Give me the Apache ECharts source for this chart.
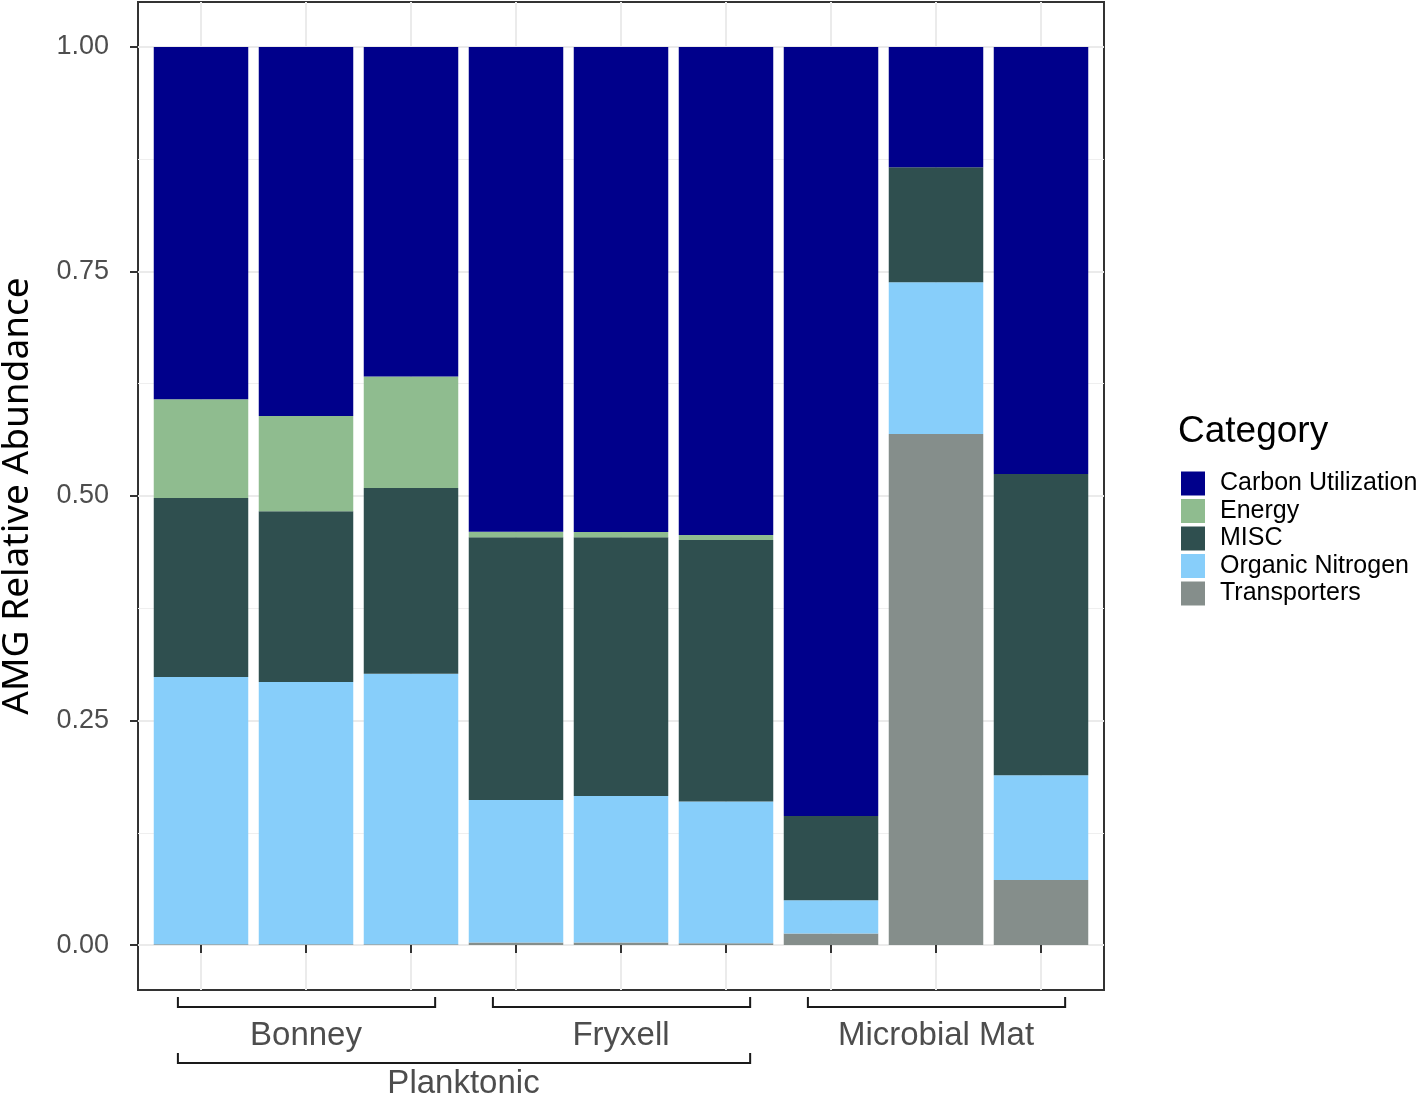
<!DOCTYPE html>
<html>
<head>
<meta charset="utf-8">
<script src="https://cdn.jsdelivr.net/npm/echarts@6/dist/echarts.min.js"></script>
<style>
	html, body { margin: 0; padding: 0; background: #fff; }
	#chart { width: 1421px; height: 1096px; }
</style>
</head>
<body>
<div id="chart"></div>
<script type="text/javascript">
	// bar positions (x labels are blank, groups are shown with brackets below)
	var positions = [1, 2, 3, 4, 5, 6, 7, 8, 9];
	var samples = ['B1', 'B2', 'B3', 'F1', 'F2', 'F3', 'M1', 'M2', 'M3'];
	var categories = ['Carbon Utilization', 'Energy', 'MISC', 'Organic Nitrogen', 'Transporters'];
	var colors = ['#00008B', '#8FBC8F', '#2F4F4F', '#87CEFA', '#858E8B'];

	var carbon       = [0.3922, 0.411, 0.367, 0.5397, 0.540, 0.5434, 0.8563, 0.134, 0.4755];
	var energy       = [0.110, 0.106, 0.124, 0.0063, 0.006, 0.0056, 0, 0, 0];
	var misc         = [0.1994, 0.190, 0.207, 0.2925, 0.288, 0.291, 0.0937, 0.128, 0.3355];
	var organicN     = [0.2974, 0.292, 0.301, 0.1585, 0.163, 0.158, 0.0372, 0.169, 0.1166];
	var transporters = [0.001, 0.001, 0.001, 0.003, 0.003, 0.002, 0.0128, 0.569, 0.0724];

	var yTicks = [0, 0.25, 0.5, 0.75, 1];
	var yMinor = [0.125, 0.375, 0.625, 0.875];

	// groups: name, first bar, last bar, level (0 = inner, 1 = outer)
	var groupNames = ['Bonney', 'Fryxell', 'Microbial Mat', 'Planktonic'];
	var groupFrom  = [1, 4, 7, 1];
	var groupTo    = [3, 6, 9, 6];
	var groupLevel = [0, 0, 0, 1];

	// panel: ggplot-style expansion of 0.6 units on the discrete axis
	var xMin = 0.4, xMax = 9.6;
	var panelLeft = 138, panelRight = 317, panelTop = 2, panelBottom = 106;
	var unit = (1421 - panelLeft - panelRight) / (xMax - xMin);
	var pad = (positions[0] - 0.5 - xMin) * unit;

	// stacking: first series sits at the bottom
	var stackOrder = [
		['Transporters', transporters, colors[4]],
		['Organic Nitrogen', organicN, colors[3]],
		['MISC', misc, colors[2]],
		['Energy', energy, colors[1]],
		['Carbon Utilization', carbon, colors[0]]
	];
	var series = stackOrder.map(function (s) {
		return {
			name: s[0],
			type: 'bar',
			stack: 'all',
			xAxisIndex: 1,
			yAxisIndex: 2,
			barWidth: '90%',
			itemStyle: { color: s[2] },
			data: s[1]
		};
	});

	var labelFont = 'Liberation Sans';
	var myChart = echarts.init(document.getElementById('chart'));
	var option = {
		animation: false,
		backgroundColor: '#ffffff',
		title: {
			text: 'Category',
			left: 1173,
			top: 408,
			textStyle: { fontFamily: labelFont, fontSize: 37, fontWeight: 'normal', color: '#000' }
		},
		legend: {
			orient: 'vertical',
			left: 1176,
			top: 466,
			icon: 'rect',
			itemWidth: 24,
			itemHeight: 24,
			itemGap: 2.5,
			data: categories,
			textStyle: { fontFamily: labelFont, fontSize: 25, lineHeight: 24, color: '#000', padding: [0, 0, 0, 10] }
		},
		grid: [
			{
				left: panelLeft, right: panelRight, top: panelTop, bottom: panelBottom,
				show: true, borderColor: '#333333', borderWidth: 2,
				outerBoundsMode: 'none'
			},
			{
				left: panelLeft + pad, right: panelRight + pad, top: panelTop, bottom: panelBottom,
				outerBoundsMode: 'none'
			}
		],
		xAxis: [
			{
				type: 'value',
				gridIndex: 0,
				min: xMin,
				max: xMax,
				axisLine: { show: false },
				axisLabel: { show: false },
				axisTick: { show: true, customValues: positions, length: 8, lineStyle: { color: '#333', width: 2 } },
				splitLine: { show: true, lineStyle: { color: '#EBEBEB', width: 2 } }
			},
			{
				type: 'category',
				gridIndex: 1,
				data: samples,
				show: false
			}
		],
		yAxis: [
			{
				type: 'value',
				gridIndex: 0,
				min: -0.05,
				max: 1.05,
				name: 'AMG Relative Abundance',
				nameLocation: 'middle',
				nameGap: 102,
				nameTextStyle: { fontFamily: 'Noto Sans', fontSize: 37, color: '#000' },
				axisLine: { show: false },
				axisTick: { show: true, customValues: yTicks, length: 8, lineStyle: { color: '#333', width: 2 } },
				axisLabel: {
					customValues: yTicks,
					margin: 29,
					fontFamily: labelFont, fontSize: 27, color: '#4D4D4D',
					formatter: function (v) { return v.toFixed(2); }
				},
				splitLine: { show: true, lineStyle: { color: '#EBEBEB', width: 2 } }
			},
			{
				type: 'value',
				gridIndex: 0,
				min: -0.05,
				max: 1.05,
				position: 'left',
				axisLine: { show: false },
				axisTick: { show: false, customValues: yMinor },
				axisLabel: { show: false },
				splitLine: { show: true, lineStyle: { color: '#EFEFEF', width: 1 } }
			},
			{
				type: 'value',
				gridIndex: 1,
				min: -0.05,
				max: 1.05,
				show: false,
				splitLine: { show: false }
			}
		],
		series: series
	};
	myChart.setOption(option);

	// nested group brackets under the x axis
	var bracketY = [1007, 1063];
	var labelY = [1036, 1084];
	var elements = [];
	groupNames.forEach(function (name, i) {
		var x1 = myChart.convertToPixel({ xAxisIndex: 0 }, groupFrom[i] - 0.22);
		var x2 = myChart.convertToPixel({ xAxisIndex: 0 }, groupTo[i] + 0.23);
		var y = bracketY[groupLevel[i]];
		elements.push({
			type: 'polyline',
			shape: { points: [[x1, y - 10], [x1, y], [x2, y], [x2, y - 10]] },
			style: { stroke: '#1a1a1a', lineWidth: 2, fill: null }
		});
		var xc = myChart.convertToPixel({ xAxisIndex: 0 }, (groupFrom[i] + groupTo[i]) / 2);
		elements.push({
			type: 'text',
			x: xc,
			y: labelY[groupLevel[i]],
			style: {
				text: name, fontFamily: labelFont, fontSize: 33, fill: '#4D4D4D',
				align: 'center', verticalAlign: 'middle'
			}
		});
	});
	myChart.setOption({ graphic: { elements: elements } });
</script>
</body>
</html>
